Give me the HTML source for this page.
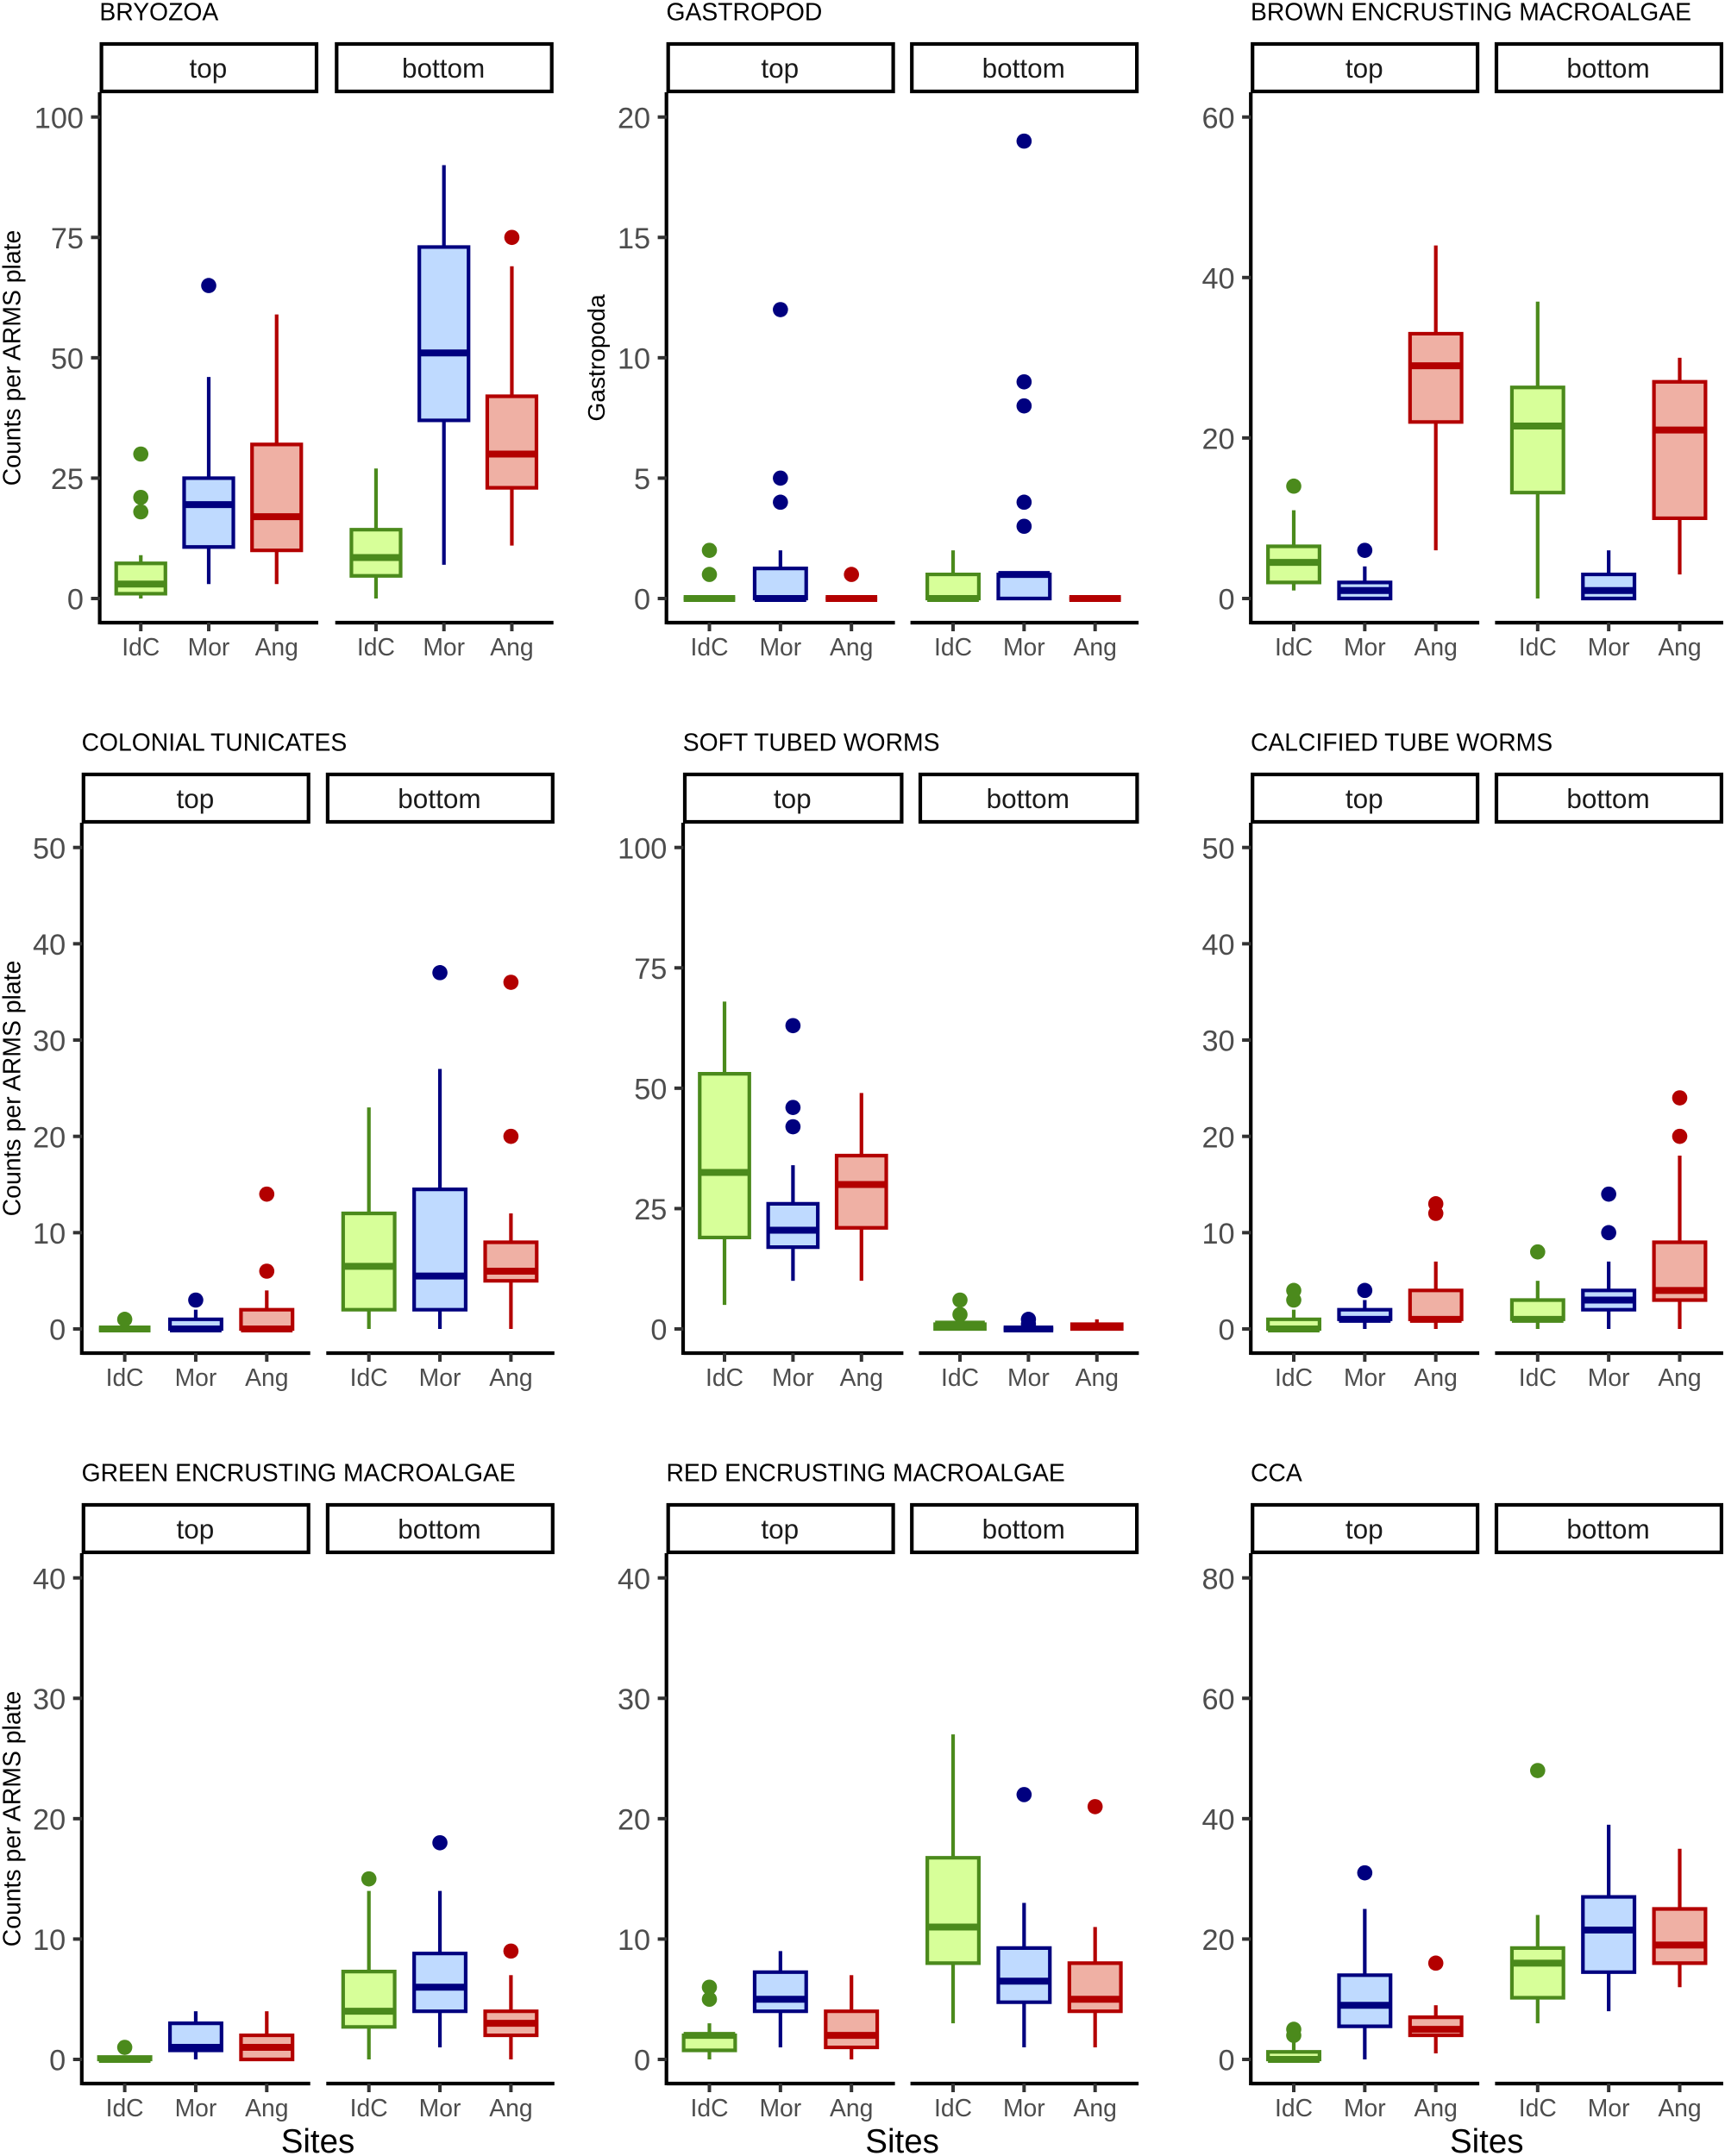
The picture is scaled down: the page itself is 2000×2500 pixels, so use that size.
<!DOCTYPE html>
<html lang="en">
<head>
<meta charset="utf-8">
<title>Counts per ARMS plate by site and plate side</title>
<style>
html,body{margin:0;padding:0;background:#fff}
svg{display:block;font-family:"Liberation Sans",Arial,sans-serif}
</style>
</head>
<body>
<svg id="chart" xmlns="http://www.w3.org/2000/svg" width="2000" height="2500" viewBox="0 0 2000 2500"></svg>
<script>
// Shared categories
const sites = ['IdC', 'Mor', 'Ang'];
const facets = ['top', 'bottom'];
const countsLabel = 'Counts per ARMS plate';
const xAxisLabel = 'Sites';

// Each box is [whisker low, q1, median, q3, whisker high]
const bryozoaTicks = [0, 25, 50, 75, 100];
const bryozoaTop = [[0, 1, 3, 7.3, 9], [3, 10.7, 19.5, 25, 46], [3, 10, 17, 32, 59]];
const bryozoaTopOut = [[18, 21, 30], [65], []];
const bryozoaBottom = [[0, 4.7, 8.5, 14.3, 27], [7, 37, 51, 73, 90], [11, 23, 30, 42, 69]];
const bryozoaBottomOut = [[], [], [75]];

const gastropodTicks = [0, 5, 10, 15, 20];
const gastropodTop = [[0, 0, 0, 0, 0], [0, 0, 0, 1.25, 2], [0, 0, 0, 0, 0]];
const gastropodTopOut = [[1, 2], [4, 5, 12], [1]];
const gastropodBottom = [[0, 0, 0, 1, 2], [0, 0, 1, 1, 1], [0, 0, 0, 0, 0]];
const gastropodBottomOut = [[], [3, 4, 8, 9, 19], []];

const brownTicks = [0, 20, 40, 60];
const brownTop = [[1, 2, 4.5, 6.5, 11], [0, 0, 1, 2, 4], [6, 22, 29, 33, 44]];
const brownTopOut = [[14], [6], []];
const brownBottom = [[0, 13.2, 21.5, 26.3, 37], [0, 0, 1, 3, 6], [3, 10, 21, 27, 30]];
const brownBottomOut = [[], [], []];

const tunicateTicks = [0, 10, 20, 30, 40, 50];
const tunicateTop = [[0, 0, 0, 0, 0], [0, 0, 0, 1, 2], [0, 0, 0, 2, 4]];
const tunicateTopOut = [[1], [3], [6, 14]];
const tunicateBottom = [[0, 2, 6.5, 12, 23], [0, 2, 5.5, 14.5, 27], [0, 5, 6, 9, 12]];
const tunicateBottomOut = [[], [37], [20, 36]];

const softWormTicks = [0, 25, 50, 75, 100];
const softWormTop = [[5, 19, 32.5, 53, 68], [10, 17, 20.5, 26, 34], [10, 21, 30, 36, 49]];
const softWormTopOut = [[], [42, 46, 63], []];
const softWormBottom = [[0, 0, 1, 1, 1], [0, 0, 0, 0, 0], [0, 0, 0.5, 1, 2]];
const softWormBottomOut = [[3, 6], [1, 2], []];

const calcWormTicks = [0, 10, 20, 30, 40, 50];
const calcWormTop = [[0, 0, 0, 1, 2], [0, 1, 1, 2, 3], [0, 1, 1, 4, 7]];
const calcWormTopOut = [[3, 4], [4], [12, 13]];
const calcWormBottom = [[0, 1, 1, 3, 5], [0, 2, 3, 4, 7], [0, 3, 4, 9, 18]];
const calcWormBottomOut = [[8], [10, 14], [20, 24]];

const greenTicks = [0, 10, 20, 30, 40];
const greenTop = [[0, 0, 0, 0.2, 0.2], [0, 0.75, 1, 3, 4], [0, 0, 1, 2, 4]];
const greenTopOut = [[1], [], []];
const greenBottom = [[0, 2.7, 4, 7.3, 14], [1, 4, 6, 8.8, 14], [0, 2, 3, 4, 7]];
const greenBottomOut = [[15], [18], [9]];

const redTicks = [0, 10, 20, 30, 40];
const redTop = [[0, 0.75, 2, 2, 3], [1, 4, 5, 7.25, 9], [0, 1, 2, 4, 7]];
const redTopOut = [[5, 6], [], []];
const redBottom = [[3, 8, 11, 16.75, 27], [1, 4.75, 6.5, 9.25, 13], [1, 4, 5, 8, 11]];
const redBottomOut = [[], [22], [21]];

const ccaTicks = [0, 20, 40, 60, 80];
const ccaTop = [[0, 0, 0, 1.25, 3], [0, 5.5, 9, 14, 25], [1, 4, 5, 7, 9]];
const ccaTopOut = [[4, 5], [31], [16]];
const ccaBottom = [[6, 10.25, 16, 18.5, 24], [8, 14.5, 21.5, 27, 39], [12, 16, 19, 25, 35]];
const ccaBottomOut = [[48], [], []];

// Panel registry: titles and series references
const panels = [
  {title: 'BRYOZOA', yTitle: countsLabel, ticks: bryozoaTicks, series: [bryozoaTop, bryozoaBottom], outliers: [bryozoaTopOut, bryozoaBottomOut]},
  {title: 'GASTROPOD', yTitle: 'Gastropoda', ticks: gastropodTicks, series: [gastropodTop, gastropodBottom], outliers: [gastropodTopOut, gastropodBottomOut]},
  {title: 'BROWN ENCRUSTING MACROALGAE', yTitle: '', ticks: brownTicks, series: [brownTop, brownBottom], outliers: [brownTopOut, brownBottomOut]},
  {title: 'COLONIAL TUNICATES', yTitle: countsLabel, ticks: tunicateTicks, series: [tunicateTop, tunicateBottom], outliers: [tunicateTopOut, tunicateBottomOut]},
  {title: 'SOFT TUBED WORMS', yTitle: '', ticks: softWormTicks, series: [softWormTop, softWormBottom], outliers: [softWormTopOut, softWormBottomOut]},
  {title: 'CALCIFIED TUBE WORMS', yTitle: '', ticks: calcWormTicks, series: [calcWormTop, calcWormBottom], outliers: [calcWormTopOut, calcWormBottomOut]},
  {title: 'GREEN ENCRUSTING MACROALGAE', yTitle: countsLabel, ticks: greenTicks, series: [greenTop, greenBottom], outliers: [greenTopOut, greenBottomOut]},
  {title: 'RED ENCRUSTING MACROALGAE', yTitle: '', ticks: redTicks, series: [redTop, redBottom], outliers: [redTopOut, redBottomOut]},
  {title: 'CCA', yTitle: '', ticks: ccaTicks, series: [ccaTop, ccaBottom], outliers: [ccaTopOut, ccaBottomOut]}
];

// Layout (geometry only)
const columnGeometry = [
  [{l: 116, w: 252, r: 388.7}, {l: 773.1, w: 263.5, r: 1055.6}, {l: 1450.6, w: 263.5, r: 1733.4}],
  [{l: 95.2, w: 263.5, r: 378.3}, {l: 792.4, w: 254, r: 1065.4}, {l: 1450.6, w: 263.5, r: 1733.4}],
  [{l: 95.2, w: 263.5, r: 378.3}, {l: 773.1, w: 263.5, r: 1055.6}, {l: 1450.6, w: 263.5, r: 1733.4}]
];
const ROW_STEP = 847;
const STRIP_TOP = 51, STRIP_BOTTOM = 106, PANEL_TOP = 107, PANEL_BOTTOM = 722, Y_ZERO = 694, Y_MAX = 135.7;
const siteStroke = ['#4B8A1C', '#00007F', '#B30000'];
const siteFill = ['#D7FF99', '#BFDAFF', '#EFB0A4'];

const svg = document.getElementById('chart');
const NS = 'http://www.w3.org/2000/svg';
function make(tag, attrs, parent, text) {
  const node = document.createElementNS(NS, tag);
  for (const k in attrs) node.setAttribute(k, attrs[k]);
  if (text !== undefined) node.textContent = text;
  parent.appendChild(node);
  return node;
}

function drawFacet(group, geom, facetIndex, panel, dy, yOf) {
  const left = facetIndex === 0 ? geom.l : geom.r;
  const width = geom.w;
  const facetName = facets[facetIndex];
  const xOf = i => left + width * (i + 0.6) / 3.2;
  const boxHalf = width * 0.75 / 3.2 / 2 - 1;

  // strip
  const strip = make('rect', {x: left + 1.6, y: STRIP_TOP + dy, width: width - 2.6, height: STRIP_BOTTOM - STRIP_TOP, fill: '#fff', stroke: '#000', 'stroke-width': 4.2}, group);
  
  
  const stripLabel = make('text', {x: left + width / 2 - 0.6, y: 89.8 + dy, 'text-anchor': 'middle', 'font-size': 31.5, fill: '#1a1a1a'}, group, facetName);
  
  

  // x axis
  const xAxis = make('line', {x1: left, x2: left + width + 1, y1: PANEL_BOTTOM + dy, y2: PANEL_BOTTOM + dy, stroke: '#000', 'stroke-width': 4.2}, group);
  
  

  sites.forEach((site, i) => {
    const cx = xOf(i);
    const tick = make('line', {x1: cx, x2: cx, y1: PANEL_BOTTOM + dy, y2: PANEL_BOTTOM + 10 + dy, stroke: '#333', 'stroke-width': 4}, group);
    
    
    const label = make('text', {x: cx, y: 760 + dy, 'text-anchor': 'middle', 'font-size': 28.3, fill: '#4d4d4d'}, group, site);
    
    

    const stats = panel.series[facetIndex][i];
    const stroke = siteStroke[i];
    const lowWhisker = make('line', {x1: cx, x2: cx, y1: yOf(stats[0]), y2: yOf(stats[1]), stroke: stroke, 'stroke-width': 4.2}, group);
    
    
    const highWhisker = make('line', {x1: cx, x2: cx, y1: yOf(stats[3]), y2: yOf(stats[4]), stroke: stroke, 'stroke-width': 4.2}, group);
    
    
    const box = make('path', {d: 'M' + (cx - boxHalf) + ' ' + yOf(stats[1]) + 'H' + (cx + boxHalf) + 'V' + yOf(stats[3]) + 'H' + (cx - boxHalf) + 'Z', fill: siteFill[i], stroke: stroke, 'stroke-width': 4.2, 'stroke-linejoin': 'miter'}, group);
    
    
    const median = make('line', {x1: cx - boxHalf, x2: cx + boxHalf, y1: yOf(stats[2]), y2: yOf(stats[2]), stroke: stroke, 'stroke-width': 8}, group);
    
    
    panel.outliers[facetIndex][i].forEach(v => {
      const dot = make('circle', {cx: cx, cy: yOf(v), r: 8.8, fill: stroke}, group);
      
      
    });
  });
}

panels.forEach((panel, index) => {
  const row = Math.floor(index / 3), col = index % 3;
  const geom = columnGeometry[row][col];
  const dy = row * ROW_STEP;
  const tickMax = panel.ticks[panel.ticks.length - 1];
  const yOf = v => Y_ZERO + dy - v * (Y_ZERO - Y_MAX) / tickMax;

  const group = make('g', {}, svg);
  
  

  const title = make('text', {x: geom.l - 0.6, y: 23.3 + dy, 'font-size': 28.3, fill: '#000'}, group, panel.title);
  
  

  facets.forEach((f, fi) => drawFacet(group, geom, fi, panel, dy, yOf));

  // y axis
  const yAxis = make('line', {x1: geom.l - 0.4, x2: geom.l - 0.4, y1: PANEL_TOP + dy, y2: PANEL_BOTTOM + 2 + dy, stroke: '#000', 'stroke-width': 4.2}, group);
  
  
  panel.ticks.forEach(t => {
    const tick = make('line', {x1: geom.l - 10.5, x2: geom.l, y1: yOf(t), y2: yOf(t), stroke: '#333', 'stroke-width': 4}, group);
    
    
    const label = make('text', {x: geom.l - 19, y: yOf(t) + 12.6, 'text-anchor': 'end', 'font-size': 34.3, fill: '#4d4d4d'}, group, String(t));
    
    
  });

  if (panel.yTitle) {
    const tx = col === 0 ? 23.5 : 701;
    const ty = 415 + dy;
    const yTitle = make('text', {x: tx, y: ty, 'text-anchor': 'middle', 'font-size': panel.yTitle === countsLabel ? 28.4 : 28.2, fill: '#000', transform: 'rotate(-90 ' + tx + ' ' + ty + ')'}, group, panel.yTitle);
    
    
  }

  if (row === 2) {
    const sx = (geom.l + geom.r + geom.w) / 2;
    const xTitle = make('text', {x: sx, y: 2496, 'text-anchor': 'middle', 'font-size': 38.5, fill: '#000'}, group, xAxisLabel);
    
    
  }
});
</script>
</body>
</html>
